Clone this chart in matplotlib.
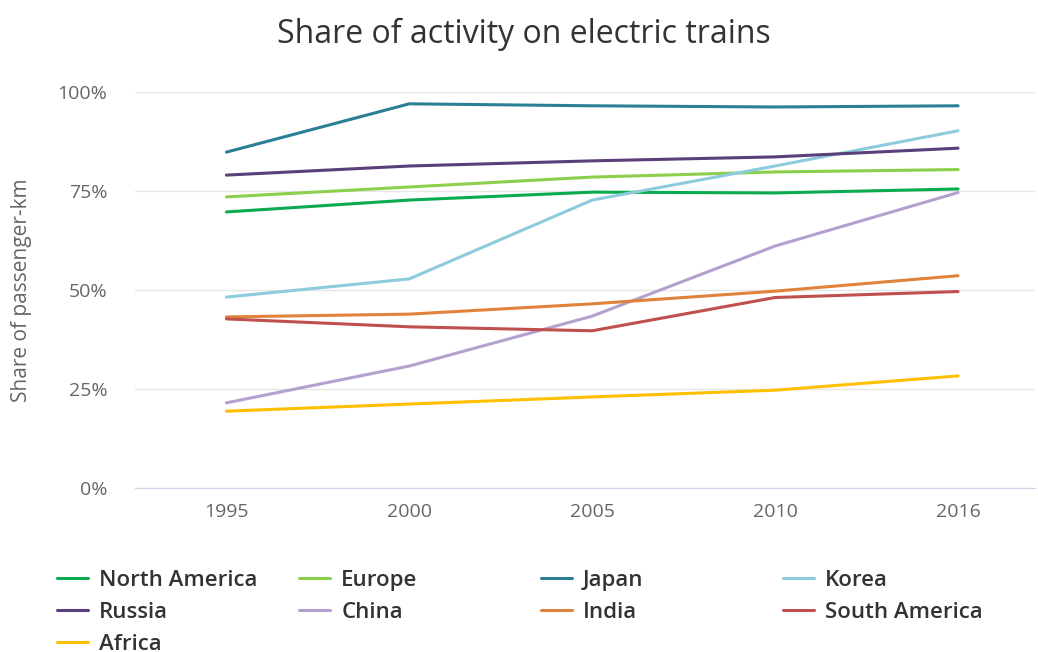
import matplotlib
matplotlib.use("Agg")
import matplotlib.pyplot as plt
from matplotlib.ticker import FuncFormatter

plt.rcParams['font.family'] = ['Open Sans', 'DejaVu Sans']

years = ['1995', '2000', '2005', '2010', '2016']

north_america = [69.7, 72.7, 74.7, 74.5, 75.5]
europe = [73.5, 76.0, 78.5, 79.8, 80.4]
japan = [84.8, 97.0, 96.5, 96.2, 96.5]
korea = [48.2, 52.8, 72.7, 81.3, 90.2]
russia = [79.0, 81.3, 82.6, 83.6, 85.8]
china = [21.5, 30.8, 43.4, 61.1, 74.6]
india = [43.2, 43.9, 46.5, 49.7, 53.6]
south_america = [42.7, 40.7, 39.7, 48.1, 49.6]
africa = [19.4, 21.2, 23.0, 24.7, 28.3]

series = [
    ('North America', north_america, '#0aab4e'),
    ('Europe', europe, '#8ccf4d'),
    ('Japan', japan, '#2b7f95'),
    ('Korea', korea, '#8ccbdc'),
    ('Russia', russia, '#5b3f7a'),
    ('China', china, '#b3a0cf'),
    ('India', india, '#e0823a'),
    ('South America', south_america, '#c0504d'),
    ('Africa', africa, '#ffc000'),
]

fig = plt.figure(figsize=(10.38, 6.52), dpi=100)
ax = fig.add_axes([0.130, 0.2515, 0.867, 0.6075])

x = list(range(len(years)))
handles = {}
for name, vals, col in series:
    ln, = ax.plot(x, vals, color=col, lw=2.2, solid_capstyle='round', label=name)
    handles[name] = ln

ax.set_xlim(-0.5, 4.42)
ax.set_ylim(0, 100)
ax.set_xticks(x)
ax.set_xticklabels(years)
ax.set_yticks([0, 25, 50, 75, 100])
ax.yaxis.set_major_formatter(FuncFormatter(lambda v, p: f'{v:.0f}%'))
ax.grid(axis='y', color='#e6e6e6', lw=1)
ax.set_axisbelow(True)
for s in ['top', 'right', 'left']:
    ax.spines[s].set_visible(False)
ax.spines['bottom'].set_color('#ccd6eb')
ax.tick_params(axis='both', length=0, labelsize=14, colors='#666666')
ax.tick_params(axis='x', pad=11)
ax.tick_params(axis='y', pad=20)
ax.set_ylabel('Share of passenger-km', fontsize=15, color='#666666', labelpad=18)

fig.text(0.505, 0.947, 'Share of activity on electric trains', ha='center', va='center',
         fontsize=23, color='#333333')

# legend, four equal columns
columns = [['North America', 'Russia', 'Africa'], ['Europe', 'China'],
           ['Japan', 'India'], ['Korea', 'South America']]
col_x = [0.055, 0.288, 0.521, 0.754]
for cx, names in zip(col_x, columns):
    fig.legend([handles[n] for n in names], names, loc='upper left',
               bbox_to_anchor=(cx, 0.1265), frameon=False,
               prop={'size': 16, 'weight': 'semibold'},
               labelcolor='#333333', handlelength=1.4, handletextpad=0.5,
               labelspacing=0.5, borderpad=0, borderaxespad=0)

fig.savefig('out.png', dpi=100, facecolor='white')
